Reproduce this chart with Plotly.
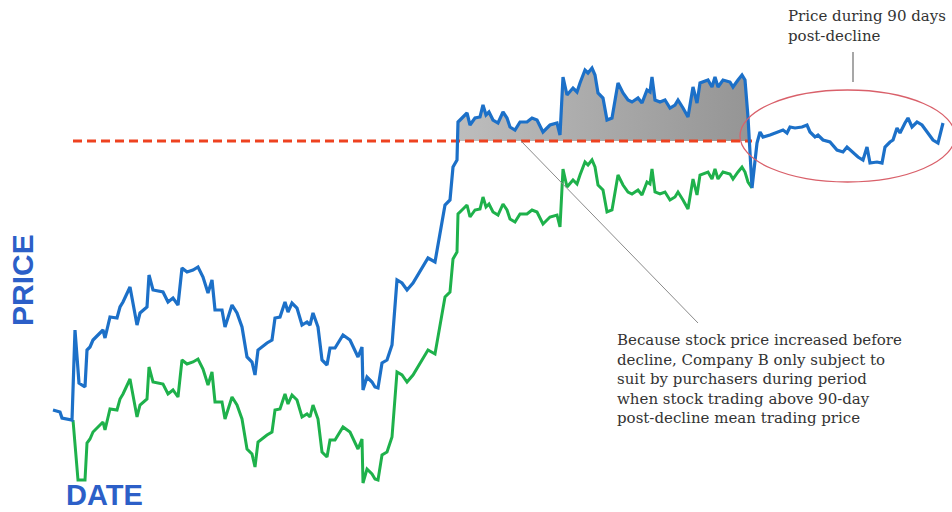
import plotly.graph_objects as go

# ---- data (day index, price) ----
blue_days = [0, 7, 9, 19, 22, 26, 32, 34, 37, 40, 45, 50, 52, 57, 64, 67, 70, 77, 84, 87, 94, 96, 100, 110, 115, 120, 125,
             129, 134, 140, 145, 150, 155, 159, 162, 169, 172, 179, 184, 189, 194, 199, 202, 205, 214, 219, 222, 227, 232,
             235, 239, 244, 249, 254, 257, 260, 265, 269, 274, 277, 282, 290, 297, 305, 309, 310, 314, 319, 322, 325, 329,
             334, 339, 344, 349, 354, 360, 369, 375, 382, 387, 392, 397, 400, 404, 405, 410, 414, 417, 422, 427, 430, 433,
             436, 440, 445, 450, 454, 457, 462, 467, 474, 479, 484, 490, 497, 504, 507, 510, 514, 520, 524, 527, 532, 535,
             539, 542, 545, 550, 554, 559, 565, 570, 575, 579, 585, 589, 594, 597, 599, 602, 607, 612, 617, 622, 625, 630,
             635, 640, 644, 647, 650, 655, 659, 662, 665, 670, 677, 680, 685, 689, 692, 695, 699, 704, 707, 710, 717, 724,
             730, 734, 737, 742, 749, 754, 757, 762, 765, 770, 777, 784, 790, 794, 799, 805, 810, 814, 817, 824, 829, 832,
             837, 840, 844, 847, 852, 855, 859, 864, 869, 874, 880, 885, 890]
blue_price = [9.0, 8.8, 8.2, 8.0, 17.0, 11.7, 11.3, 15.0, 15.3, 16.0, 16.5, 17.0, 16.2, 18.3, 18.2, 19.3, 19.8, 21.3, 17.5,
              18.7, 19.3, 22.5, 21.0, 20.8, 19.8, 20.2, 19.5, 23.2, 22.8, 23.0, 23.3, 22.3, 20.7, 22.0, 19.0, 19.0, 17.3,
              19.5, 18.7, 17.3, 14.3, 13.8, 12.5, 15.0, 15.7, 16.0, 18.2, 18.3, 19.8, 18.8, 19.7, 19.2, 17.5, 17.8, 17.5,
              18.7, 17.3, 14.0, 13.5, 15.2, 15.2, 16.5, 16.0, 14.3, 15.3, 11.0, 12.3, 11.8, 11.3, 11.2, 13.7, 14.0, 15.5,
              22.0, 21.7, 21.0, 21.7, 23.2, 24.2, 23.8, 26.7, 29.5, 30.0, 33.3, 34.0, 37.8, 38.3, 38.7, 37.5, 38.2, 38.3,
              39.5, 38.5, 38.8, 38.0, 37.7, 38.8, 38.2, 37.3, 37.0, 37.8, 37.8, 38.2, 38.0, 36.8, 37.5, 37.7, 36.5, 42.3,
              40.5, 41.2, 40.8, 41.7, 43.0, 42.7, 43.2, 42.5, 40.7, 40.2, 38.0, 38.2, 41.7, 40.7, 40.0, 39.8, 40.2, 39.7,
              41.0, 40.8, 42.3, 40.0, 39.8, 40.0, 39.2, 39.5, 40.0, 39.2, 38.3, 41.3, 39.7, 41.7, 41.8, 42.0, 41.3, 42.3,
              41.3, 42.0, 41.8, 41.3, 42.0, 42.5, 42.0, 38.3, 31.2, 35.7, 36.8, 36.3, 36.5, 36.8, 37.0, 36.7, 37.3, 37.2,
              37.3, 37.5, 36.8, 36.3, 36.5, 36.0, 35.8, 35.0, 34.8, 35.3, 34.8, 34.3, 34.0, 35.3, 33.7, 33.8, 33.7, 35.3,
              35.8, 36.0, 37.2, 36.7, 37.7, 38.2, 37.3, 37.8, 37.5, 36.8, 36.0, 35.7, 37.7]

green_days = [20, 25, 32, 34, 37, 40, 45, 50, 52, 57, 64, 67, 70, 77, 84, 87, 94, 96, 100, 110, 115, 120, 125, 129, 134,
              140, 145, 150, 155, 159, 162, 169, 172, 179, 184, 189, 194, 199, 202, 205, 214, 219, 222, 227, 232, 235, 239,
              244, 249, 254, 257, 260, 265, 269, 274, 277, 282, 290, 297, 305, 309, 310, 314, 319, 322, 325, 329, 334, 339,
              344, 349, 354, 360, 369, 375, 382, 387, 392, 397, 400, 404, 405, 410, 414, 417, 422, 427, 430, 433, 436, 440,
              445, 450, 454, 457, 462, 467, 474, 479, 484, 490, 497, 504, 507, 510, 514, 520, 524, 527, 532, 535, 539, 542,
              545, 550, 554, 559, 565, 570, 575, 579, 585, 589, 594, 597, 599, 602, 607, 612, 617, 622, 625, 630, 635, 640,
              644, 647, 650, 655, 659, 662, 665, 670, 677, 680, 685, 689, 692, 695, 699]
green_price = [8.0, 2.0, 2.0, 5.7, 6.1, 6.8, 7.3, 7.8, 7.0, 9.1, 9.0, 10.1, 10.6, 12.1, 8.3, 9.5, 10.1, 13.3, 11.8, 11.6,
               10.6, 11.0, 10.3, 14.0, 13.6, 13.8, 14.1, 13.1, 11.5, 12.8, 9.8, 9.8, 8.1, 10.3, 9.5, 8.1, 5.1, 4.6, 3.3,
               5.8, 6.5, 6.8, 9.0, 9.1, 10.6, 9.6, 10.5, 10.0, 8.3, 8.6, 8.3, 9.5, 8.1, 4.8, 4.3, 6.0, 6.0, 7.3, 6.8, 5.1,
               6.1, 1.7, 3.1, 2.6, 2.1, 2.0, 4.5, 4.8, 6.3, 12.8, 12.5, 11.8, 12.5, 14.0, 15.0, 14.6, 17.5, 20.3, 20.8,
               24.1, 24.8, 28.6, 29.1, 29.5, 28.3, 29.0, 29.1, 30.3, 29.3, 29.6, 28.8, 28.5, 29.6, 29.0, 28.1, 27.8, 28.6,
               28.6, 29.0, 28.8, 27.6, 28.3, 28.5, 27.3, 33.1, 31.3, 32.0, 31.6, 32.5, 33.8, 33.5, 34.0, 33.3, 31.5, 31.0,
               28.8, 29.0, 32.5, 31.5, 30.8, 30.6, 31.0, 30.5, 31.8, 31.6, 33.1, 30.8, 30.6, 30.8, 30.0, 30.3, 30.8, 30.0,
               29.1, 32.1, 30.5, 32.5, 32.6, 32.8, 32.1, 33.1, 32.1, 32.8, 32.6, 32.1, 32.8, 33.3, 32.8, 31.8, 31.2]

threshold_price = 35.9          # 90-day post-decline mean trading price
threshold_days = [20, 699]
shade_window = [400, 699]       # period before decline that is shaded
ellipse_days = [687, 902]
ellipse_price = [31.8, 41.0]

note_top = "Price during 90 days<br>post-decline"
note_main = ("Because stock price increased before<br>decline, Company B only subject to<br>"
             "suit by purchasers during period<br>when stock trading above 90-day<br>"
             "post-decline mean trading price")

# ---- shaded region: blue above threshold inside the window ----
sx, sy = [], []
for i in range(len(blue_days) - 1):
    d0, d1 = blue_days[i], blue_days[i + 1]
    p0, p1 = blue_price[i], blue_price[i + 1]
    if d1 < shade_window[0] or d0 > shade_window[1]:
        continue
    if p0 >= threshold_price:
        sx.append(d0); sy.append(p0)
    if (p0 - threshold_price) * (p1 - threshold_price) < 0:
        t = (threshold_price - p0) / (p1 - p0)
        sx.append(d0 + t * (d1 - d0)); sy.append(threshold_price)
poly_x = sx + [sx[-1], sx[0]]
poly_y = sy + [threshold_price, threshold_price]

fig = go.Figure()
fig.add_trace(go.Scatter(x=poly_x, y=poly_y, mode="lines", line=dict(width=0), fill="toself",
                         fillgradient=dict(type="horizontal",
                                           colorscale=[[0, "#bdbdbd"], [1, "#959595"]]),
                         hoverinfo="skip"))
fig.add_trace(go.Scatter(x=threshold_days, y=[threshold_price] * 2, mode="lines",
                         line=dict(color="#ee4220", width=3, dash="9px,5px")))
fig.add_trace(go.Scatter(x=green_days, y=green_price, mode="lines",
                         line=dict(color="#1eb14b", width=3)))
fig.add_trace(go.Scatter(x=blue_days, y=blue_price, mode="lines",
                         line=dict(color="#1c70c8", width=3.2)))

W, H = 952, 512
def px(x): return x / W
def py(y): return 1 - y / H

fig.add_shape(type="circle", xref="x", yref="y", x0=ellipse_days[0], x1=ellipse_days[1],
              y0=ellipse_price[0], y1=ellipse_price[1], line=dict(color="#d9606a", width=1.3))
fig.add_shape(type="line", xref="paper", yref="paper", x0=px(853), x1=px(853), y0=py(52), y1=py(82),
              line=dict(color="#8a8a8a", width=1.5))
fig.add_shape(type="line", xref="paper", yref="paper", x0=px(521), x1=px(698), y0=py(141), y1=py(323),
              line=dict(color="#8a8a8a", width=1))

serif = "DejaVu Serif"
fig.add_annotation(xref="paper", yref="paper", x=px(786), y=py(5), xanchor="left", yanchor="top",
                   text=note_top, showarrow=False, align="left",
                   font=dict(family=serif, size=15, color="#333333"))
fig.add_annotation(xref="paper", yref="paper", x=px(615), y=py(329), xanchor="left", yanchor="top",
                   text=note_main, showarrow=False, align="left",
                   font=dict(family=serif, size=15, color="#333333"))
fig.add_annotation(xref="paper", yref="paper", x=px(22), y=py(280), xanchor="center", yanchor="middle",
                   textangle=-90, text="<b>PRICE</b>", showarrow=False,
                   font=dict(family="Liberation Sans", size=30, color="#2c5fc8"))
fig.add_annotation(xref="paper", yref="paper", x=px(104), y=0, xanchor="center", yanchor="bottom",
                   borderpad=0, text="<b>DATE</b>", showarrow=False,
                   font=dict(family="Liberation Sans", size=29, color="#2c5fc8"))

fig.update_layout(width=W, height=H, margin=dict(l=0, r=0, t=0, b=0), showlegend=False,
                  paper_bgcolor="white", plot_bgcolor="white")
fig.update_xaxes(range=[-53, W - 53], visible=False)
fig.update_yaxes(range=[50 - H / 10, 50], visible=False)
fig.write_html("out.html")
